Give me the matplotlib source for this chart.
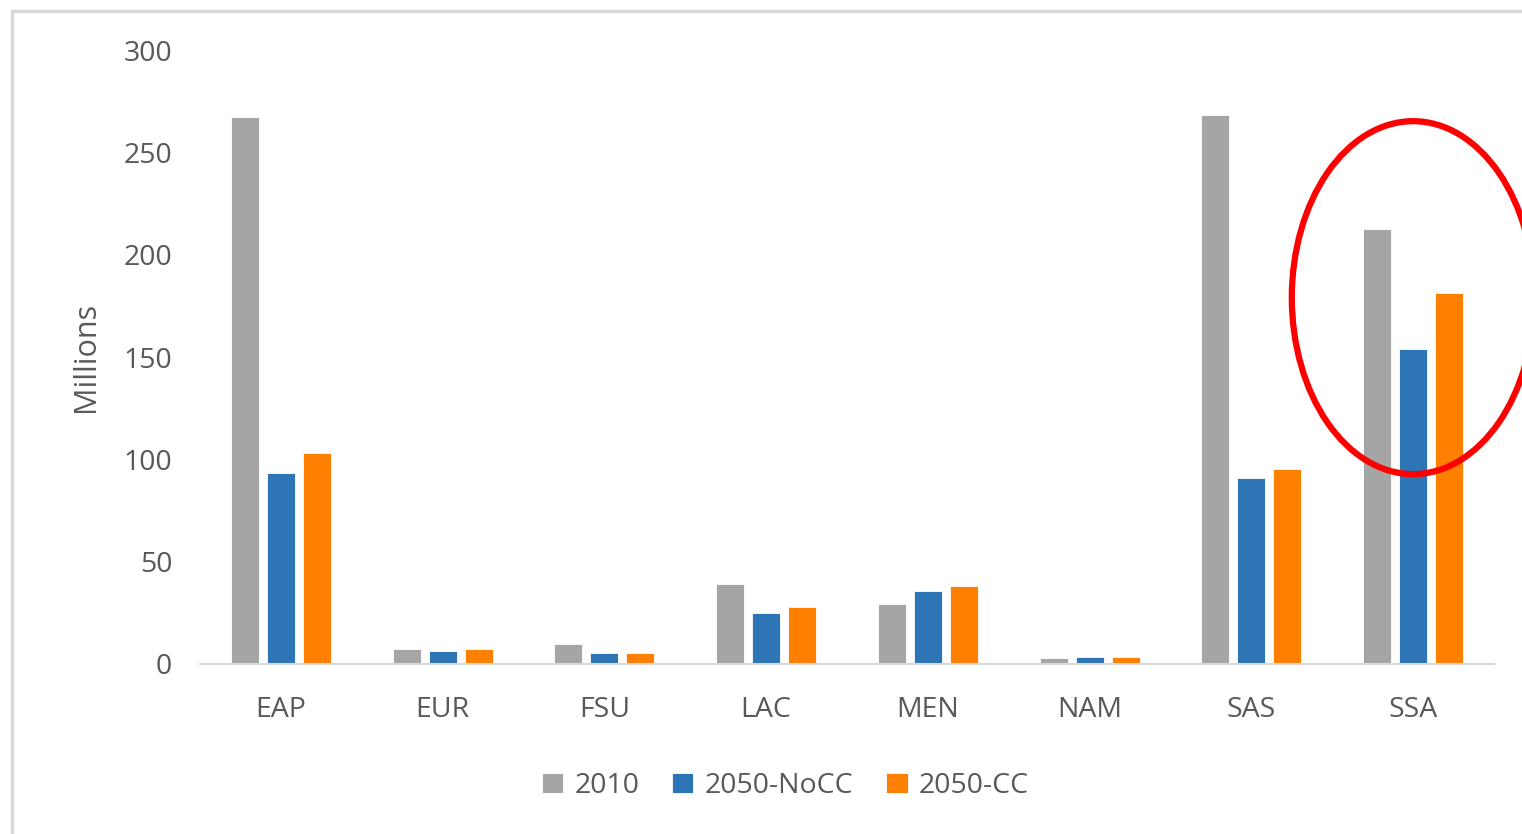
import matplotlib.pyplot as plt
import numpy as np
from matplotlib.patches import Ellipse, Rectangle

# region names and values (millions)
regions = ['EAP', 'EUR', 'FSU', 'LAC', 'MEN', 'NAM', 'SAS', 'SSA']
v2010 = [267.5, 7.3, 9.8, 39.0, 29.3, 2.9, 268.2, 212.5]
v2050_nocc = [93.3, 6.3, 5.4, 24.9, 35.7, 3.4, 90.9, 153.9]
v2050_cc = [103.0, 7.3, 5.4, 27.8, 38.1, 3.4, 95.3, 181.2]
series_names = ['2010', '2050-NoCC', '2050-CC']
colors = ['#A5A5A5', '#2E75B6', '#FF7F00']
yticks = [0, 50, 100, 150, 200, 250, 300]

plt.rcParams['font.family'] = ['Open Sans', 'DejaVu Sans']
txt = '#595959'

fig = plt.figure(figsize=(15.22, 8.34), dpi=100)
ax = fig.add_axes([200/1522, 1-664/834, 1294/1522, 614/834])

x = np.arange(len(regions))
w = 28/162
step = 36/162
for i, (vals, name) in enumerate(zip([v2010, v2050_nocc, v2050_cc], series_names)):
    ax.bar(x + (i-1)*step, vals, width=w, color=colors[i], label=name,
           edgecolor='white', linewidth=0.6, zorder=2)

ax.set_xlim(-0.5, len(regions)-0.5)
ax.set_ylim(0, 300)
ax.set_yticks(yticks)
ax.set_xticks(x)
ax.set_xticklabels(regions)
ax.tick_params(axis='both', length=0, labelsize=20.5, colors=txt)
ax.tick_params(axis='y', pad=20)
ax.tick_params(axis='x', pad=23)
for s in ['top', 'right', 'left']:
    ax.spines[s].set_visible(False)
ax.spines['bottom'].set_color('#D9D9D9')
ax.spines['bottom'].set_linewidth(1.5)
ax.set_ylabel('Millions', fontsize=22, color=txt, labelpad=16)

leg = fig.legend(loc='center', bbox_to_anchor=(0.516, 1-786/834), ncol=3,
                 frameon=False, fontsize=20.5, handlelength=0.75, handleheight=0.75,
                 handletextpad=0.4, columnspacing=1.15, labelcolor=txt)

# red ellipse highlighting SSA
ell = Ellipse((7, 179), width=243/162, height=353/2.047, fill=False,
              edgecolor='red', linewidth=4.5, zorder=5, clip_on=False)
ax.add_patch(ell)

# outer frame of the chart area
fig.patches.append(Rectangle((12/1522, -0.1), 1.2, 1-11/834+0.1,
                             transform=fig.transFigure, fill=False,
                             edgecolor='#D9D9D9', linewidth=2.5))

fig.savefig('out.png', dpi=100)
